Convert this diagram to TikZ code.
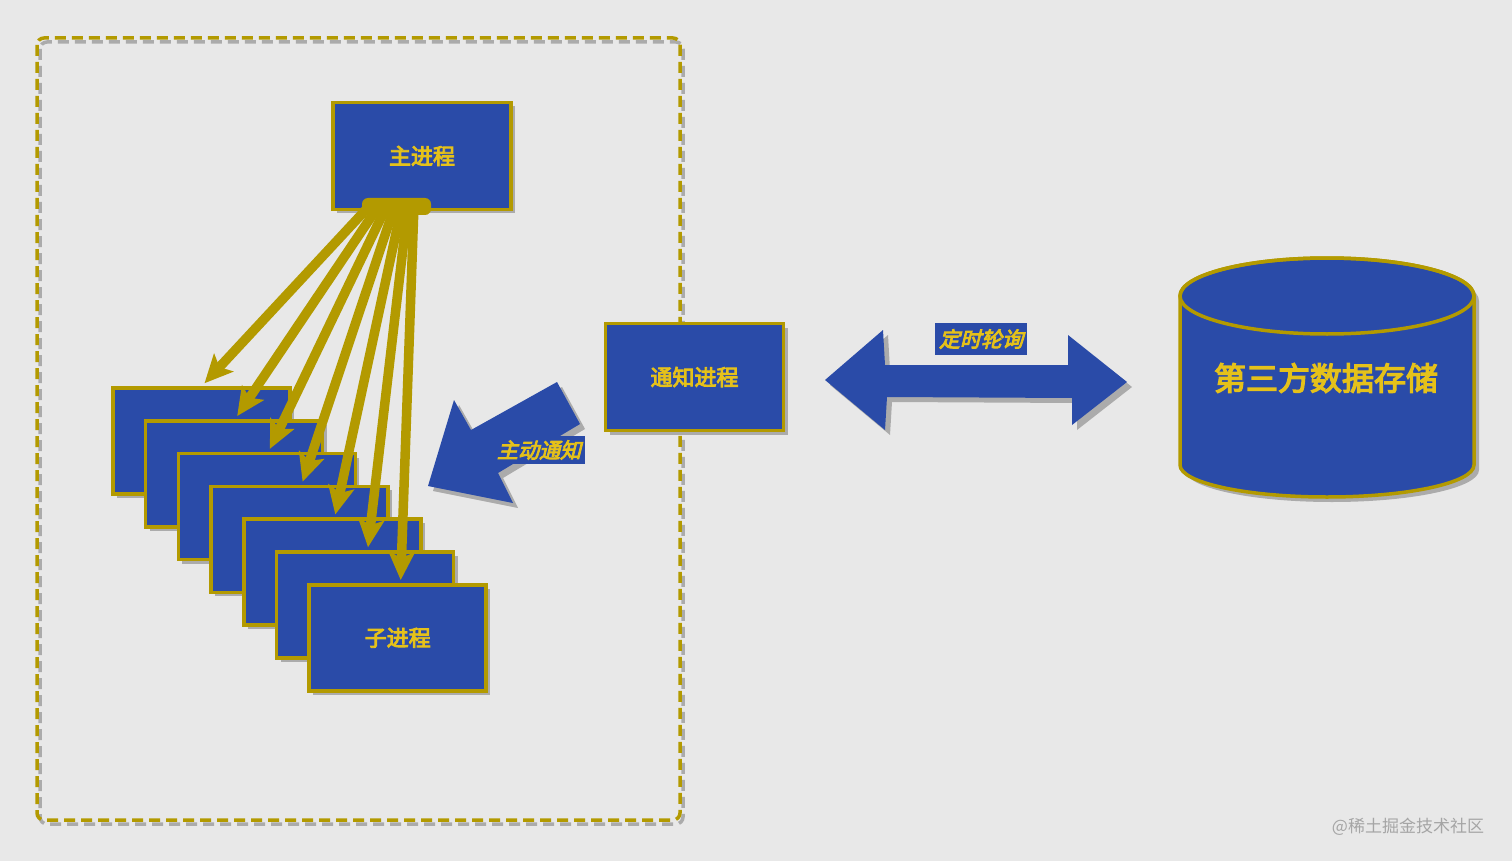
\documentclass[tikz,border=0pt]{standalone}
\usepackage{fontspec}
\setmainfont{Noto Sans CJK SC}
\newfontfamily\cjk{Noto Sans CJK SC}[FakeBold=4]
\newfontfamily\cjkit{Noto Sans CJK SC}[FakeBold=4,FakeSlant=0.25]
\usetikzlibrary{calc,shadows,arrows.meta}
\definecolor{bg}{HTML}{E8E8E8}
\definecolor{pblue}{HTML}{2A4BA8}
\definecolor{gold}{HTML}{B39A00}
\definecolor{txt}{HTML}{E5C11A}
\definecolor{shd}{HTML}{ABABAB}
\definecolor{wmark}{HTML}{A5A5A5}
\begin{document}
\begin{tikzpicture}[x=1pt,y=-1pt,
  proc/.style={rectangle, fill=pblue, draw=gold, line width=3.5pt, text=txt,
    font=\cjk\fontsize{22}{26}\selectfont, minimum width=178pt, minimum height=107pt,
    inner sep=0pt, drop shadow={shadow xshift=4pt, shadow yshift=-4pt, fill=shd, opacity=1}},
  childbox/.style={proc, minimum width=177pt, minimum height=106pt},
  spawn/.style={draw=gold, line width=9.5pt, line cap=round,
    -{Stealth[length=28pt,width=26pt,inset=6pt]}},
  blockarrow/.style={fill=pblue},
  blockshadow/.style={fill=shd},
  tag/.style={fill=pblue, text=txt, font=\cjkit\fontsize{21}{24}\selectfont,
    inner sep=0pt, minimum height=28pt, minimum width=92pt},
  frame/.style={line width=3.5pt, dash pattern=on 11pt off 6pt, rounded corners=7pt},
]
\fill[bg] (0,0) rectangle (1512,861);
\useasboundingbox (0,0) rectangle (1512,861);

% dashed group frame
\draw[frame, shd] (40,42) rectangle (683,824);
\draw[frame, gold] (37,38) rectangle (680,820);

% main process
\node[proc] (main) at (422,156) {主进程};

% child processes
\foreach \k in {1,...,6}
  \node[childbox] (c\k) at ({201.5+32.7*(\k-1)},{441+32.8*(\k-1)}) {};
\node[childbox] (c7) at ({201.5+32.7*6},{441+32.8*6}) {子进程};

% notify process
\node[proc] (notify) at (694.5,377) {通知进程};

% spawn arrows
\fill[gold, rounded corners=6pt] (362,198) rectangle (431,215);
\foreach \k/\dx in {1/-52,2/-43,3/-35,4/-27,5/-20,6/-14,7/-8}
  \draw[spawn] ($(main.south)+(\dx,-6)$) -- ($(c\k.north)+(3,-3)$);

% block arrow: notify -> children
\begin{scope}[shift={(5,5)}]
  \fill[blockshadow] (428,486) -- (454,400) -- (471,430) -- (557,382) -- (580,424) -- (498,473) -- (513,503) -- cycle;
\end{scope}
\fill[blockarrow] (428,486) -- (454,400) -- (471,430) -- (557,382) -- (580,424) -- (498,473) -- (513,503) -- cycle;
\node[tag] (lbl1) at (539,450) {主动通知};

% double block arrow: notify <-> storage
\begin{scope}[shift={(5,5)}]
  \fill[blockshadow] (825,380) -- (883,330) -- (885,365) -- (1068,365) -- (1068,335) -- (1127,382) -- (1072,425) -- (1072,398) -- (887,397) -- (885,430) -- cycle;
\end{scope}
\fill[blockarrow] (825,380) -- (883,330) -- (885,365) -- (1068,365) -- (1068,335) -- (1127,382) -- (1072,425) -- (1072,398) -- (887,397) -- (885,430) -- cycle;
\node[tag, minimum height=32pt] (lbl2) at (981,339) {定时轮询};

% cylinder: third-party storage
\begin{scope}[shift={(5,5)}]
  \fill[shd] (1180,296) -- (1180,465) arc[start angle=180, end angle=0, x radius=147, y radius=32]
    -- (1474,296) arc[start angle=0, end angle=-180, x radius=147, y radius=38] -- cycle;
\end{scope}
\filldraw[fill=pblue, draw=gold, line width=3.5pt]
  (1180,296) -- (1180,465) arc[start angle=180, end angle=0, x radius=147, y radius=32]
  -- (1474,296) arc[start angle=0, end angle=-180, x radius=147, y radius=38] -- cycle;
\draw[gold, line width=3.5pt] (1327,296) ellipse [x radius=147, y radius=38];
\node[text=txt, font=\cjk\fontsize{32}{36}\selectfont] (db) at (1326,378) {第三方数据存储};

% watermark
\node[text=wmark, font=\fontsize{17}{20}\selectfont] (wm) at (1408,827) {@稀土掘金技术社区};
\end{tikzpicture}
\end{document}
